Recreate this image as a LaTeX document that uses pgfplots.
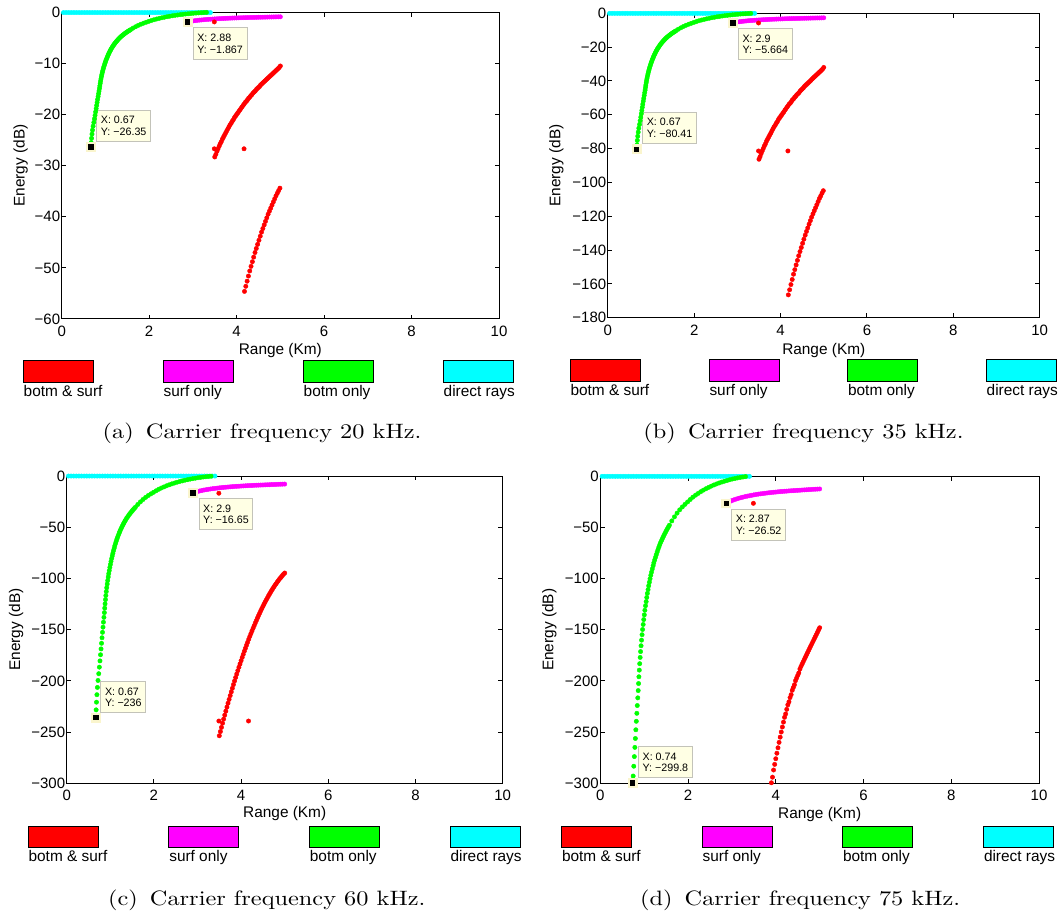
\documentclass[border=0pt]{standalone}
\usepackage{pgfplots}
\pgfplotsset{compat=1.18}
\usepackage{pgfplotstable}
\usepackage{graphicx}
\usepackage{fontspec}
\newfontfamily\hv{Liberation Sans}

% Energy of the ray arrivals versus range, one column per carrier frequency
% (a = 20 kHz, b = 35 kHz, c = 60 kHz, d = 75 kHz)

% bottom-only arrivals
\pgfplotstableread{
x a b c d
0.670 -26.35 -80.41 -236.0 nan
0.675 -25.48 -77.71 -228.3 nan
0.683 -24.64 -75.15 -220.8 nan
0.693 -23.83 -72.68 -213.5 nan
0.704 -23.04 -70.27 -206.4 nan
0.718 -22.28 -67.95 -199.6 nan
0.735 -21.54 -65.70 -193.0 nan
0.749 -20.83 -63.53 -186.6 -292.9
0.763 -20.15 -61.46 -180.5 -283.3
0.776 -19.48 -59.41 -174.5 -273.9
0.788 -18.84 -57.46 -168.8 -264.9
0.799 -18.22 -55.57 -163.3 -256.2
0.810 -17.62 -53.74 -157.9 -247.7
0.821 -17.03 -51.94 -152.6 -239.4
0.833 -16.47 -50.23 -147.6 -231.6
0.843 -15.93 -48.59 -142.7 -224.0
0.854 -15.40 -46.97 -138.0 -216.5
0.864 -14.89 -45.41 -133.4 -209.4
0.872 -14.40 -43.92 -129.0 -202.5
0.880 -13.93 -42.49 -124.8 -195.9
0.889 -13.47 -41.08 -120.7 -189.4
0.898 -13.02 -39.71 -116.7 -183.1
0.908 -12.59 -38.40 -112.8 -177.0
0.918 -12.18 -37.15 -109.1 -171.3
0.929 -11.78 -35.93 -105.5 -165.6
0.940 -11.39 -34.74 -102.1 -160.1
0.952 -11.01 -33.58 -98.65 -154.8
0.964 -10.65 -32.48 -95.42 -149.7
0.977 -10.30 -31.42 -92.29 -144.8
0.990 -9.96 -30.38 -89.24 -140.0
1.003 -9.63 -29.37 -86.28 -135.4
1.016 -9.31 -28.40 -83.42 -130.9
1.031 -9.00 -27.45 -80.64 -126.5
1.045 -8.71 -26.57 -78.04 -122.5
1.059 -8.42 -25.68 -75.44 -118.4
1.073 -8.14 -24.83 -72.93 -114.4
1.089 -7.87 -24.00 -70.52 -110.7
1.103 -7.61 -23.21 -68.19 -107.0
1.119 -7.36 -22.45 -65.95 -103.5
1.134 -7.12 -21.72 -63.80 -100.1
1.151 -6.88 -20.98 -61.64 -96.73
1.168 -6.66 -20.31 -59.67 -93.64
1.185 -6.44 -19.64 -57.70 -90.55
1.204 -6.22 -18.97 -55.73 -87.45
1.220 -6.02 -18.36 -53.94 -84.64
1.239 -5.82 -17.75 -52.15 -81.83
1.258 -5.63 -17.17 -50.44 -79.16
1.277 -5.44 -16.59 -48.74 -76.49
1.296 -5.26 -16.04 -47.13 -73.96
1.315 -5.09 -15.52 -45.61 -71.57
1.335 -4.92 -15.01 -44.08 -69.18
1.355 -4.76 -14.52 -42.65 -66.93
1.375 -4.60 -14.03 -41.22 -64.68
1.398 -4.45 -13.57 -39.87 -62.57
1.420 -4.30 -13.12 -38.53 -60.46
1.442 -4.16 -12.69 -37.27 -58.49
1.464 -4.02 -12.26 -36.02 -56.52
1.486 -3.89 -11.86 -34.85 -54.69
1.508 -3.76 -11.47 -33.69 -52.87
1.530 -3.64 -11.10 -32.61 -51.18
1.553 -3.52 -10.74 -31.54 -49.49
1.575 -3.40 -10.37 -30.46 -47.80
1.63 -3.10 -9.46 -27.78 -43.59
1.69 -2.82 -8.60 -25.27 -39.65
1.75 -2.56 -7.81 -22.94 -35.99
1.81 -2.33 -7.11 -20.88 -32.76
1.87 -2.13 -6.50 -19.08 -29.95
1.93 -1.95 -5.95 -17.47 -27.42
1.99 -1.78 -5.43 -15.95 -25.03
2.05 -1.61 -4.91 -14.43 -22.64
2.11 -1.45 -4.42 -12.99 -20.39
2.17 -1.31 -4.00 -11.74 -18.42
2.23 -1.19 -3.63 -10.66 -16.73
2.29 -1.07 -3.26 -9.59 -15.04
2.35 -0.96 -2.93 -8.60 -13.50
2.41 -0.86 -2.62 -7.71 -12.09
2.47 -0.77 -2.35 -6.90 -10.83
2.53 -0.68 -2.07 -6.09 -9.56
2.59 -0.60 -1.83 -5.38 -8.44
2.65 -0.53 -1.62 -4.75 -7.45
2.71 -0.46 -1.40 -4.12 -6.47
2.77 -0.40 -1.22 -3.58 -5.62
2.83 -0.34 -1.04 -3.05 -4.78
2.89 -0.29 -0.88 -2.60 -4.08
2.95 -0.24 -0.73 -2.15 -3.37
3.01 -0.19 -0.58 -1.70 -2.67
3.07 -0.15 -0.46 -1.34 -2.11
3.13 -0.11 -0.34 -0.99 -1.55
3.19 -0.08 -0.24 -0.72 -1.12
3.25 -0.05 -0.15 -0.45 -0.70
3.31 -0.02 -0.06 -0.18 -0.28
}\botmonly

% surface-only arrivals
\pgfplotstableread{
x a b c d
2.87 nan nan nan -26.52
2.88 -1.867 nan nan nan
2.90 -1.83 -5.664 -16.65 -25.75
2.92 -1.80 -5.49 -16.13 -25.31
2.96 -1.74 -5.31 -15.59 -24.46
3.00 -1.69 -5.15 -15.14 -23.76
3.05 -1.63 -4.97 -14.60 -22.92
3.10 -1.58 -4.82 -14.16 -22.21
3.15 -1.53 -4.67 -13.71 -21.51
3.20 -1.49 -4.54 -13.35 -20.95
3.25 -1.45 -4.42 -12.99 -20.39
3.30 -1.41 -4.30 -12.63 -19.82
3.35 -1.38 -4.21 -12.36 -19.40
3.40 -1.35 -4.12 -12.10 -18.98
3.45 -1.32 -4.03 -11.83 -18.56
3.50 -1.29 -3.93 -11.56 -18.14
3.55 -1.265 -3.86 -11.33 -17.79
3.60 -1.24 -3.78 -11.11 -17.43
3.65 -1.22 -3.72 -10.93 -17.15
3.70 -1.20 -3.66 -10.75 -16.87
3.75 -1.18 -3.60 -10.57 -16.59
3.80 -1.16 -3.54 -10.39 -16.31
3.85 -1.14 -3.48 -10.21 -16.03
3.90 -1.125 -3.43 -10.08 -15.82
3.95 -1.11 -3.39 -9.95 -15.61
4.00 -1.095 -3.34 -9.81 -15.40
4.05 -1.08 -3.29 -9.68 -15.18
4.10 -1.065 -3.25 -9.54 -14.97
4.15 -1.05 -3.20 -9.41 -14.76
4.20 -1.04 -3.17 -9.32 -14.62
4.25 -1.03 -3.14 -9.23 -14.48
4.30 -1.015 -3.10 -9.09 -14.27
4.35 -1.005 -3.07 -9.00 -14.13
4.40 -0.995 -3.03 -8.92 -13.99
4.45 -0.985 -3.00 -8.83 -13.85
4.50 -0.975 -2.97 -8.74 -13.71
4.55 -0.965 -2.94 -8.65 -13.57
4.60 -0.955 -2.91 -8.56 -13.43
4.65 -0.945 -2.88 -8.47 -13.29
4.70 -0.935 -2.85 -8.38 -13.15
4.75 -0.925 -2.82 -8.29 -13.01
4.80 -0.915 -2.79 -8.20 -12.86
4.85 -0.905 -2.76 -8.11 -12.72
4.90 -0.897 -2.74 -8.04 -12.61
4.95 -0.889 -2.71 -7.97 -12.50
5.00 -0.88 -2.68 -7.88 -12.37
}\surfonly

% bottom-and-surface arrivals, upper branch
\pgfplotstableread{
x a b c d
3.500 -28.3 -86.3 -253.6 nan
3.525 -27.8 -84.8 -249.5 nan
3.550 -27.2 -83.0 -245.4 nan
3.575 -26.7 -81.4 -241.3 nan
3.600 -26.2 -79.9 -237.3 nan
3.625 -25.7 -78.4 -233.4 nan
3.650 -25.3 -77.2 -229.5 nan
3.675 -24.8 -75.6 -225.6 nan
3.700 -24.4 -74.4 -221.8 nan
3.725 -24.0 -73.2 -218.1 nan
3.750 -23.6 -72.0 -214.4 nan
3.775 -23.2 -70.8 -210.8 nan
3.800 -22.8 -69.5 -207.2 nan
3.825 -22.4 -68.3 -203.6 nan
3.850 -22.0 -67.1 -200.1 nan
3.875 -21.7 -66.2 -196.7 nan
3.900 -21.3 -65.0 -193.3 -299.5
3.925 -21.0 -64.1 -190.0 -294.0
3.950 -20.6 -62.8 -186.7 -287.0
3.975 -20.3 -61.9 -183.5 -281.5
4.000 -20.0 -61.0 -180.3 -276.0
4.025 -19.7 -60.1 -177.1 -270.6
4.050 -19.4 -59.2 -174.1 -265.3
4.075 -19.1 -58.3 -171.0 -260.0
4.100 -18.8 -57.3 -168.1 -254.9
4.125 -18.5 -56.4 -165.1 -249.9
4.150 -18.2 -55.5 -162.3 -245.0
4.175 -17.9 -54.6 -159.4 -240.2
4.200 -17.6 -53.7 -156.6 -235.5
4.225 -17.4 -53.1 -153.9 -232.2
4.250 -17.1 -52.2 -151.2 -227.7
4.275 -16.8 -51.2 -148.6 -223.3
4.300 -16.6 -50.6 -146.1 -220.4
4.325 -16.3 -49.7 -143.5 -216.2
4.350 -16.1 -49.1 -141.1 -213.4
4.375 -15.8 -48.2 -138.6 -209.1
4.400 -15.6 -47.6 -136.3 -206.4
4.425 -15.4 -47.0 -134.0 -203.7
4.450 -15.1 -46.1 -131.7 -199.7
4.475 -14.9 -45.4 -129.5 -197.1
4.500 -14.7 -44.8 -127.3 -194.6
4.525 -14.5 -44.2 -125.2 -192.1
4.550 -14.2 -43.3 -123.1 -188.3
4.575 -14.0 -42.7 -121.1 -185.8
4.600 -13.8 -42.1 -119.2 -183.5
4.625 -13.6 -41.5 -117.2 -181.2
4.650 -13.4 -40.9 -115.4 -178.9
4.675 -13.2 -40.3 -113.6 -176.7
4.700 -13.0 -39.7 -111.8 -174.5
4.725 -12.8 -39.0 -110.1 -172.3
4.750 -12.6 -38.4 -108.4 -170.1
4.775 -12.4 -37.8 -106.8 -167.8
4.800 -12.2 -37.2 -105.3 -165.6
4.825 -12.0 -36.6 -103.8 -163.4
4.850 -11.8 -36.0 -102.3 -161.2
4.875 -11.6 -35.4 -100.9 -159.0
4.900 -11.4 -34.8 -99.6 -156.8
4.925 -11.2 -34.2 -98.3 -154.6
4.950 -11.0 -33.6 -97.0 -152.4
4.975 -10.8 -32.9 -95.8 -150.2
5.000 -10.5 -32.0 -94.7 -148.0
}\bsupper

% bottom-and-surface arrivals, lower branch (inside the range of a and b only)
\pgfplotstableread{
x a b
4.18 -54.6 -166.5
4.21 -53.6 -163.5
4.24 -52.6 -160.4
4.27 -51.6 -157.4
4.30 -50.6 -154.3
4.33 -49.7 -151.6
4.36 -48.8 -148.8
4.39 -47.9 -146.1
4.42 -47.0 -143.4
4.45 -46.2 -140.9
4.48 -45.4 -138.5
4.51 -44.6 -136.0
4.54 -43.8 -133.6
4.57 -43.0 -131.2
4.60 -42.3 -129.0
4.63 -41.6 -126.9
4.66 -40.9 -124.7
4.69 -40.2 -122.6
4.72 -39.5 -120.5
4.75 -38.9 -118.6
4.78 -38.3 -116.8
4.81 -37.7 -115.0
4.84 -37.1 -113.2
4.87 -36.5 -111.3
4.90 -35.9 -109.5
4.93 -35.4 -108.0
4.96 -34.9 -106.4
4.99 -34.4 -104.9
}\bslower

% direct rays
\pgfplotstableread{
x y
0.04 -0.05
0.10 -0.05
0.16 -0.05
0.22 -0.05
0.28 -0.05
0.34 -0.05
0.40 -0.05
0.46 -0.05
0.52 -0.05
0.58 -0.05
0.64 -0.05
0.70 -0.05
0.76 -0.05
0.82 -0.05
0.88 -0.05
0.94 -0.05
1.00 -0.05
1.06 -0.05
1.12 -0.05
1.18 -0.05
1.24 -0.05
1.30 -0.05
1.36 -0.05
1.42 -0.05
1.48 -0.05
1.54 -0.05
1.60 -0.05
1.66 -0.05
1.72 -0.05
1.78 -0.05
1.84 -0.05
1.90 -0.05
1.96 -0.05
2.02 -0.05
2.08 -0.05
2.14 -0.05
2.20 -0.05
2.26 -0.05
2.32 -0.05
2.38 -0.05
2.44 -0.05
2.50 -0.05
2.56 -0.05
2.62 -0.05
2.68 -0.05
2.74 -0.05
2.80 -0.05
2.86 -0.05
2.92 -0.05
2.98 -0.05
3.04 -0.05
3.10 -0.05
3.16 -0.05
3.22 -0.05
3.28 -0.05
3.34 -0.05
3.40 -0.05
}\direct

\definecolor{tipfill}{RGB}{255,255,228}
\definecolor{tiphalo}{RGB}{250,245,205}
\definecolor{tipedge}{RGB}{195,195,185}
\definecolor{cRed}{RGB}{255,0,0}
\definecolor{cMag}{RGB}{255,0,255}
\definecolor{cGrn}{RGB}{0,255,0}
\definecolor{cCyn}{RGB}{0,255,255}

\pgfplotsset{
  raysax/.style={
    scale only axis, anchor=south west,
    xmin=0, xmax=10, ymax=0,
    xtick={0,2,4,6,8,10}, xticklabels={0,2,4,6,8,10},
    tick align=inside, major tick length=2.2pt,
    axis line style={line width=0.5pt},
    every tick/.style={black, line width=0.5pt},
    tick label style={font=\hv\fontsize{7.5}{9}\selectfont},
    xticklabel style={inner ysep=3.4pt},
    yticklabel style={inner xsep=0.6pt},
    label style={font=\hv\fontsize{7.7}{9}\selectfont},
    xlabel={Range (Km)}, ylabel={Energy (dB)},
  },
  dots/.style={only marks, mark=*, color=#1, mark size=1.1pt,
    mark options={line width=0.2pt}},
  tipmark/.style={only marks, mark=square*, mark size=1.9pt,
    mark options={fill=black, draw=tiphalo, line width=1.1pt}},
}
\tikzset{
  tipbox/.style={draw=tipedge, fill=tipfill, line width=0.5pt,
    inner xsep=2.1pt, inner ysep=3.0pt, align=left,
    font=\hv\fontsize{5.35}{5.8}\selectfont},
  legtext/.style={anchor=base west, inner sep=0pt, font=\hv\fontsize{7.7}{9}\selectfont},
  legpatch/.style={draw=black, line width=0.5pt},
}

\newcommand\legendrow[5]{%
  % #1 baseline of the labels, #2 bottom, #3 top, #4 list of left edges, #5 patch width
  \foreach \lx/\col/\txt in {#4}{%
    \draw[legpatch, fill=\col] (\lx pt,#2pt) rectangle ++(#5pt,#3pt-#2pt);
    \node[legtext] at (\lx pt,#1pt) {\txt};
  }%
}

\begin{document}
\begin{tikzpicture}
\useasboundingbox (0,0) rectangle (530pt,455.5pt);

% ---------------- (a) 20 kHz ----------------
\begin{axis}[raysax, at={(30.85pt,296pt)}, width=218.65pt, height=153.35pt,
  ymin=-60, ytick={-60,-50,...,0},
  yticklabels={−60,−50,−40,−30,−20,−10,0},
  xlabel style={at={(axis description cs:0.5,-0.1043)}, anchor=center},
  ylabel style={at={(axis description cs:-0.0938,0.5)}, anchor=center}]
\addplot[dots=cCyn] table[x=x,y=y]{\direct};
\addplot[dots=cGrn] table[x=x,y=a]{\botmonly};
\addplot[dots=cMag] table[x=x,y=a]{\surfonly};
\addplot[dots=cRed] table[x=x,y=a]{\bsupper};
\addplot[dots=cRed] table[x=x,y=a]{\bslower};
\addplot[dots=cRed] coordinates {(3.49,-26.7) (4.17,-26.7) (3.49,-1.88)};
\addplot[tipmark] coordinates {(0.67,-26.35)};
\addplot[tipmark] coordinates {(2.88,-1.867)};
\node[tipbox, anchor=south west, xshift=2.6pt, yshift=2.4pt] at (axis cs:0.67,-26.35) {X: 0.67\\Y: −26.35};
\node[tipbox, anchor=north west, xshift=2.5pt, yshift=-2.8pt] at (axis cs:2.88,-1.867) {X: 2.88\\Y: −1.867};
\end{axis}

% ---------------- (b) 35 kHz ----------------
\begin{axis}[raysax, at={(303.9pt,296.65pt)}, width=215.95pt, height=152.2pt,
  ymin=-180, ytick={-180,-160,...,0},
  yticklabels={−180,−160,−140,−120,−100,−80,−60,−40,−20,0},
  xlabel style={at={(axis description cs:0.5,-0.1084)}, anchor=center},
  ylabel style={at={(axis description cs:-0.1192,0.5)}, anchor=center}]
\addplot[dots=cCyn] table[x=x,y=y]{\direct};
\addplot[dots=cGrn] table[x=x,y=b]{\botmonly};
\addplot[dots=cMag] table[x=x,y=b]{\surfonly};
\addplot[dots=cRed] table[x=x,y=b]{\bsupper};
\addplot[dots=cRed] table[x=x,y=b]{\bslower};
\addplot[dots=cRed] coordinates {(3.49,-81.4) (4.17,-81.4) (3.49,-5.73)};
\addplot[tipmark] coordinates {(0.67,-80.41)};
\addplot[tipmark] coordinates {(2.9,-5.664)};
\node[tipbox, anchor=south west, xshift=2.7pt, yshift=2.6pt] at (axis cs:0.67,-80.41) {X: 0.67\\Y: −80.41};
\node[tipbox, anchor=north west, xshift=2.4pt, yshift=-2.7pt] at (axis cs:2.9,-5.664) {X: 2.9\\Y: −5.664};
\end{axis}

% ---------------- (c) 60 kHz ----------------
\begin{axis}[raysax, at={(33.35pt,63.85pt)}, width=218pt, height=153.65pt,
  ymin=-300, ytick={-300,-250,...,0},
  yticklabels={−300,−250,−200,−150,−100,−50,0},
  xlabel style={at={(axis description cs:0.5,-0.0976)}, anchor=center},
  ylabel style={at={(axis description cs:-0.1158,0.5)}, anchor=center}]
\addplot[dots=cCyn] table[x=x,y=y]{\direct};
\addplot[dots=cGrn] table[x=x,y=c]{\botmonly};
\addplot[dots=cMag] table[x=x,y=c]{\surfonly};
\addplot[dots=cRed] table[x=x,y=c]{\bsupper};
\addplot[dots=cRed] coordinates {(3.49,-239.2) (4.17,-239.2) (3.49,-16.8)};
\addplot[tipmark] coordinates {(0.67,-236)};
\addplot[tipmark] coordinates {(2.9,-16.65)};
\node[tipbox, anchor=south west, xshift=2.2pt, yshift=2.2pt] at (axis cs:0.67,-236) {X: 0.67\\Y: −236};
\node[tipbox, anchor=north west, xshift=2.7pt, yshift=-2.5pt] at (axis cs:2.9,-16.65) {X: 2.9\\Y: −16.65};
\end{axis}

% ---------------- (d) 75 kHz ----------------
\begin{axis}[raysax, at={(300.15pt,63.85pt)}, width=219.35pt, height=153.5pt,
  ymin=-300, ytick={-300,-250,...,0},
  yticklabels={−300,−250,−200,−150,−100,−50,0},
  xlabel style={at={(axis description cs:0.5,-0.101)}, anchor=center},
  ylabel style={at={(axis description cs:-0.1158,0.5)}, anchor=center}]
\addplot[dots=cCyn] table[x=x,y=y]{\direct};
\addplot[dots=cGrn] table[x=x,y=d]{\botmonly};
\addplot[dots=cMag] table[x=x,y=d]{\surfonly};
\addplot[dots=cRed] table[x=x,y=d]{\bsupper};
\addplot[dots=cRed] coordinates {(3.49,-26.4)};
\addplot[tipmark] coordinates {(0.74,-299.8)};
\addplot[tipmark] coordinates {(2.87,-26.52)};
\node[tipbox, anchor=south west, xshift=2.6pt, yshift=2.4pt] at (axis cs:0.74,-299.8) {X: 0.74\\Y: −299.8};
\node[tipbox, anchor=north west, xshift=2.5pt, yshift=-2.6pt] at (axis cs:2.87,-26.52) {X: 2.87\\Y: −26.52};
\end{axis}

% legends below each panel
\legendrow{257.15}{264.35}{275}{11.65/cRed/botm \& surf, 81.65/cMag/surf only, 151.65/cGrn/botm only, 221.65/cCyn/direct rays}{35}
\legendrow{257.5}{264.65}{275.5}{285.05/cRed/botm \& surf, 354.55/cMag/surf only, 423.85/cGrn/botm only, 493.15/cCyn/direct rays}{35}
\legendrow{24.65}{31.85}{42.5}{14.1/cRed/botm \& surf, 84.45/cMag/surf only, 154.75/cGrn/botm only, 225.1/cCyn/direct rays}{35}
\legendrow{24.65}{31.65}{42.5}{280.8/cRed/botm \& surf, 351.15/cMag/surf only, 421.3/cGrn/botm only, 491.8/cCyn/direct rays}{35}

% sub-captions
\begin{scope}[every node/.style={inner sep=0pt, font=\fontsize{10.4}{12}\selectfont}]
\node at (131pt,239pt) {\scalebox{1.17}[1]{(a)\hskip0.5em Carrier frequency 20 kHz.}};
\node at (401.75pt,239pt) {\scalebox{1.17}[1]{(b)\hskip0.5em Carrier frequency 35 kHz.}};
\node at (133.35pt,5.25pt) {\scalebox{1.17}[1]{(c)\hskip0.5em Carrier frequency 60 kHz.}};
\node at (400.05pt,5.25pt) {\scalebox{1.17}[1]{(d)\hskip0.5em Carrier frequency 75 kHz.}};
\end{scope}
\end{tikzpicture}
\end{document}
